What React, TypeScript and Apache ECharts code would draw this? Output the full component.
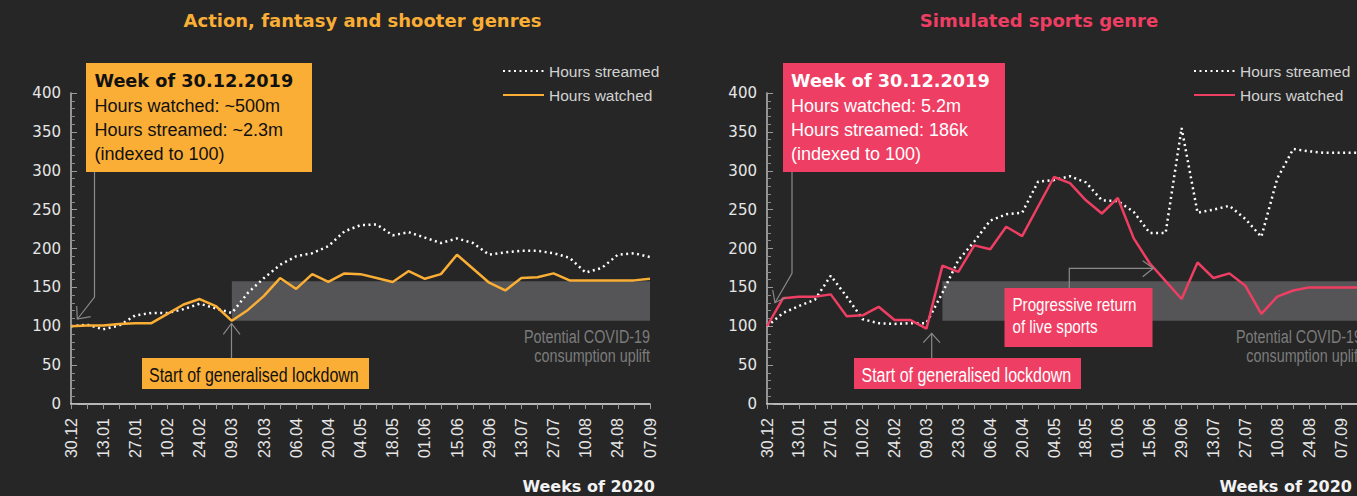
import React, { useEffect, useRef } from 'react';
import * as echarts from 'echarts';

// ---------- data ----------
const weeks = ['30.12','06.01','13.01','20.01','27.01','03.02','10.02','17.02','24.02','02.03','09.03','16.03','23.03','30.03','06.04','13.04','20.04','27.04','04.05','11.05','18.05','25.05','01.06','08.06','15.06','22.06','29.06','06.07','13.07','20.07','27.07','03.08','10.08','17.08','24.08','31.08','07.09'];
const weeksSports = [...weeks, '14.09'];

const streamedAction = [100,102,96,101,114,117,117,122,129,123,117,143,162,179,190,194,203,222,230,231,217,221,214,207,213,207,192,195,197,197,194,188,169,175,192,194,189];
const watchedAction = [100,101,101,103,104,104,116,128,135,126,107,121,139,162,148,167,157,168,167,162,157,171,161,167,192,174,156,146,162,163,168,159,159,159,159,159,161];

const streamedSports = [100,117,126,134,165,138,109,104,103,104,104,143,185,209,236,244,246,286,288,293,285,262,261,247,220,220,355,246,250,255,238,215,290,328,325,323,323,323];
const watchedSports = [100,136,138,138,141,113,114,125,108,108,97,178,170,204,199,228,216,254,292,284,262,245,265,213,181,158,135,182,162,168,152,116,138,146,150,150,150,150];

const bandY = [107, 158];
const bandActionX = [10, 36];
const bandSportsX = [10.5, 37];

const yMin = 0;
const yMax = 400;
const yInterval = 50;

const seriesNames = ['Hours streamed', 'Hours watched'];

// ---------- styles ----------
const BG = '#262626';
const ORANGE = '#FAAE35';
const PINK = '#EF3E63';
const BAND = '#555557';
const ARROW = '#8a8a8a';
const GRAYTXT = '#7c7c7c';
const BOLD = "'DejaVu Sans', sans-serif";
const REG = "'Liberation Sans', Arial, sans-serif";
const COND = 0.82;

function txt(x: number, y: number, text: string, extra: any = {}, scaleX = 1) {
  return {
    type: 'text', x, y, z: 101, scaleX,
    style: {
      text, fill: '#fff', fontSize: 18, fontFamily: REG,
      textAlign: 'left', textVerticalAlign: 'middle', ...extra,
    },
  };
}
function poly(points: number[][]) {
  return { type: 'polyline', z: 101, shape: { points }, style: { stroke: ARROW, lineWidth: 1.2, fill: null } };
}
function rect(x: number, y: number, w: number, h: number, fill: string) {
  return { type: 'rect', z: 100, shape: { x, y, width: w, height: h }, style: { fill } };
}

function makeOption(cfg: any) {
  const { cats, streamed, watched, color, gridLeft, gridWidth, bandX, legendLeft, graphics } = cfg;
  return {
    animation: false,
    backgroundColor: BG,
    grid: { left: gridLeft, top: 93, width: gridWidth, height: 311 },
    legend: {
      left: legendLeft, top: 58, orient: 'vertical', itemWidth: 41, itemHeight: 14, itemGap: 8,
      selectedMode: false,
      textStyle: { color: '#d2d2d2', fontSize: 15.5, fontFamily: REG },
      itemStyle: { opacity: 0 },
      data: seriesNames,
    },
    xAxis: {
      type: 'category', data: cats, boundaryGap: false,
      axisLine: { lineStyle: { color: '#e8e8e8', width: 1.5 } },
      axisTick: { show: true, interval: 0, length: 5, lineStyle: { color: '#9a9a9a' } },
      axisLabel: { interval: 1, rotate: 90, margin: 14, color: '#e6e6e6', fontSize: 16, fontFamily: REG },
      splitLine: { show: false },
    },
    yAxis: {
      type: 'value', min: yMin, max: yMax, interval: yInterval,
      axisLine: { show: true, lineStyle: { color: '#bdbdbd', width: 1.5 } },
      axisTick: { show: true, inside: true, length: 6, lineStyle: { color: '#9a9a9a' } },
      minorTick: { show: true, splitNumber: 5, length: 4, lineStyle: { color: '#8a8a8a' } },
      axisLabel: { color: '#e6e6e6', fontSize: 15, fontFamily: BOLD, fontWeight: 'normal', margin: 10 },
      splitLine: { show: false },
    },
    series: [
      {
        type: 'line', data: [], silent: true, z: 1,
        markArea: {
          silent: true, itemStyle: { color: BAND },
          data: [[{ xAxis: bandX[0], yAxis: bandY[0] }, { xAxis: bandX[1], yAxis: bandY[1] }]],
        },
      },
      {
        name: seriesNames[0], type: 'line', data: streamed, symbol: 'none', z: 3,
        lineStyle: { color: '#ffffff', width: 2.5, type: [2, 3.5] }, itemStyle: { color: '#ffffff' },
      },
      {
        name: seriesNames[1], type: 'line', data: watched, symbol: 'none', z: 4,
        lineStyle: { color, width: 2.5 }, itemStyle: { color },
      },
    ],
    graphic: graphics,
  };
}

const leftGraphics = [
  txt(362.5, 20, 'Action, fantasy and shooter genres', { fill: ORANGE, fontFamily: BOLD, fontWeight: 'bold', textAlign: 'center' }),
  rect(86, 63, 226, 109, ORANGE),
  txt(94.5, 81, 'Week of 30.12.2019', { fill: '#111', fontFamily: BOLD, fontWeight: 'bold', fontSize: 17.7 }),
  txt(94.5, 106, 'Hours watched: ~500m', { fill: '#111' }),
  txt(94.5, 130, 'Hours streamed: ~2.3m', { fill: '#111' }),
  txt(94.5, 154, '(indexed to 100)', { fill: '#111' }),
  poly([[94.5, 172], [94.5, 297], [77.5, 319]]),
  poly([[76.7, 306], [77.3, 319], [90.7, 316.7]]),
  rect(142, 358, 227, 31, ORANGE),
  txt(149, 375, 'Start of generalised lockdown', { fill: '#111', fontSize: 19.5 }, COND),
  poly([[231.5, 358], [231.5, 323.5]]),
  poly([[223.3, 334.3], [231.5, 323.5], [240, 334.3]]),
  txt(650, 337, 'Potential COVID-19', { fill: GRAYTXT, fontSize: 17.5, textAlign: 'right' }, COND),
  txt(650, 356, 'consumption uplift', { fill: GRAYTXT, fontSize: 17.5, textAlign: 'right' }, COND),
  txt(655, 486, 'Weeks of 2020', { fill: '#f2f2f2', fontFamily: BOLD, fontWeight: 'bold', fontSize: 16, textAlign: 'right' }),
];

const rightGraphics = [
  txt(349, 20, 'Simulated sports genre', { fill: PINK, fontFamily: BOLD, fontWeight: 'bold', textAlign: 'center' }),
  rect(93, 63, 222, 109, PINK),
  txt(101, 81, 'Week of 30.12.2019', { fontFamily: BOLD, fontWeight: 'bold', fontSize: 17.7 }),
  txt(101, 106, 'Hours watched: 5.2m'),
  txt(101, 130, 'Hours streamed: 186k'),
  txt(101, 154, '(indexed to 100)'),
  poly([[102, 172], [102, 273.3], [85, 302.7]]),
  poly([[82.7, 290], [85, 302.7], [96, 297.3]]),
  rect(164, 358, 227, 31, PINK),
  txt(171.5, 375, 'Start of generalised lockdown', { fontSize: 19.5 }, COND),
  poly([[241.7, 358], [241.7, 333.3]]),
  poly([[233.3, 342.7], [241.7, 333.3], [250, 342.7]]),
  rect(314.5, 288, 148, 59, PINK),
  txt(322.5, 305, 'Progressive return', { fontSize: 18.5 }, COND),
  txt(322.5, 326.5, 'of live sports', { fontSize: 18.5 }, COND),
  poly([[379.3, 288], [379.3, 268.3], [463.3, 268.3]]),
  poly([[452.7, 260.7], [463.3, 268.3], [452.7, 276.7]]),
  txt(672, 337, 'Potential COVID-19', { fill: GRAYTXT, fontSize: 17.5, textAlign: 'right' }, COND),
  txt(672, 356, 'consumption uplift', { fill: GRAYTXT, fontSize: 17.5, textAlign: 'right' }, COND),
  txt(662, 486, 'Weeks of 2020', { fill: '#f2f2f2', fontFamily: BOLD, fontWeight: 'bold', fontSize: 16, textAlign: 'right' }),
];

export default function App() {
  const leftRef = useRef<HTMLDivElement>(null);
  const rightRef = useRef<HTMLDivElement>(null);
  useEffect(() => {
    const c1 = echarts.init(leftRef.current!, null, { renderer: 'svg' });
    const c2 = echarts.init(rightRef.current!, null, { renderer: 'svg' });
    c1.setOption(makeOption({
      cats: weeks, streamed: streamedAction, watched: watchedAction, color: ORANGE,
      gridLeft: 71, gridWidth: 579, bandX: bandActionX, legendLeft: 497, graphics: leftGraphics,
    }));
    c2.setOption(makeOption({
      cats: weeksSports, streamed: streamedSports, watched: watchedSports, color: PINK,
      gridLeft: 77, gridWidth: 598, bandX: bandSportsX, legendLeft: 498, graphics: rightGraphics,
    }));
    return () => { c1.dispose(); c2.dispose(); };
  }, []);
  return (
    <div style={{ position: 'fixed', left: 0, top: 0, width: 1357, height: 496, overflow: 'hidden', background: BG }}>
      <div ref={leftRef} style={{ position: 'absolute', left: 0, top: 0, width: 690, height: 496 }} />
      <div ref={rightRef} style={{ position: 'absolute', left: 690, top: 0, width: 667, height: 496 }} />
    </div>
  );
}
